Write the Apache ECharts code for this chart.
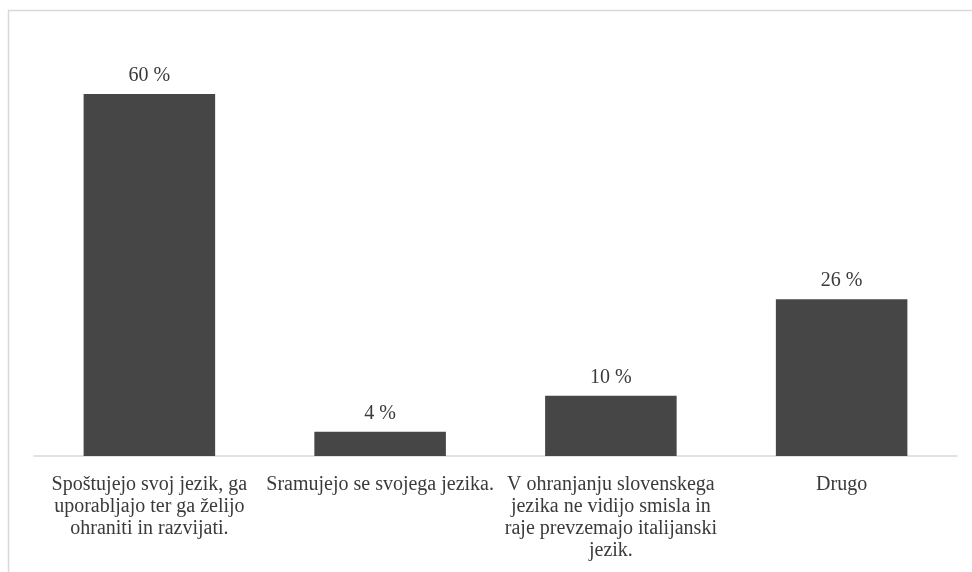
<!DOCTYPE html>
<html>
<head>
<meta charset="utf-8">
<script src="https://cdn.jsdelivr.net/npm/echarts@6/dist/echarts.min.js"></script>
<style>
  html, body { margin: 0; padding: 0; background: #ffffff; }
  #chart { width: 972px; height: 572px; }
</style>
</head>
<body>
<div id="chart"></div>
<script>
// Categories (answers) and their shares in percent
const categories = [
  'Spoštujejo svoj jezik, ga\nuporabljajo ter ga želijo\nohraniti in razvijati.',
  'Sramujejo se svojega jezika.',
  'V ohranjanju slovenskega\njezika ne vidijo smisla in\nraje prevzemajo italijanski\njezik.',
  'Drugo'
];
const shares = [60, 4, 10, 26];

const serif = '"Liberation Serif", "Times New Roman", serif';
const chart = echarts.init(document.getElementById('chart'), null, { renderer: 'canvas' });

chart.setOption({
  animation: false,
  backgroundColor: '#ffffff',
  grid: { left: 34, right: 15, top: 94, bottom: 116, containLabel: false },
  xAxis: {
    type: 'category',
    data: categories,
    axisLine: { show: true, lineStyle: { color: '#d9d9d9', width: 1.5 } },
    axisTick: { show: false },
    axisLabel: {
      interval: 0,
      margin: 18,
      color: '#3a3a3a',
      fontFamily: serif,
      fontSize: 20,
      lineHeight: 22,
      align: 'center',
      verticalAlign: 'top'
    }
  },
  yAxis: {
    type: 'value',
    min: 0,
    max: 60,
    show: false,
    splitLine: { show: false }
  },
  series: [{
    type: 'bar',
    data: shares,
    barWidth: '57%',
    itemStyle: { color: '#464646' },
    label: {
      show: true,
      position: 'top',
      distance: 8,
      color: '#3a3a3a',
      fontFamily: serif,
      fontSize: 20,
      formatter: p => p.value + ' %'
    }
  }],
  graphic: [{
    type: 'polyline',
    silent: true,
    shape: { points: [[8.5, 572], [8.5, 10.5], [972, 10.5]] },
    style: { stroke: '#d9d9d9', lineWidth: 1.5, fill: null }
  }]
});
</script>
</body>
</html>
